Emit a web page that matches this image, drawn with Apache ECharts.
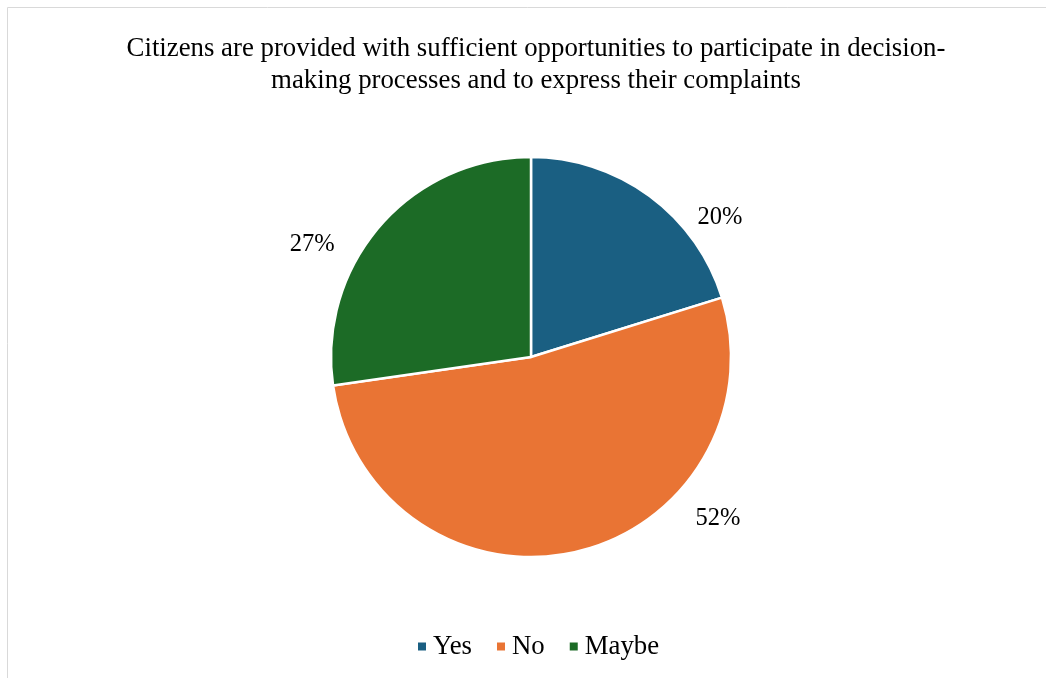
<!DOCTYPE html>
<html><head><meta charset="utf-8">
<script src="https://cdn.jsdelivr.net/npm/echarts@6/dist/echarts.min.js"></script>
<style>html,body{margin:0;padding:0;background:#fff}#c{width:1046px;height:678px}</style>
</head><body><div id="c"></div>
<script>
const titleText = 'Citizens are provided with sufficient opportunities to participate in decision-\nmaking processes and to express their complaints';
const categories = ['Yes', 'No', 'Maybe'];
const values = [20, 52, 27];
const colors = ['#1a5f82', '#e97434', '#1c6b26'];

const labelOffsets = [[31, 38], [111, -53], [-25, 32]];

const chart = echarts.init(document.getElementById('c'));
const font = '"Liberation Serif", "Times New Roman", serif';
chart.setOption({
  animation: false,
  graphic: [{type:'rect', shape:{x:7.5,y:7.5,width:1100,height:700}, style:{fill:'none', stroke:'#d9d9d9', lineWidth:1}}],
  title: {text: titleText, left: 531, textAlign: 'center', top: 28,
    textStyle: {fontFamily: font, fontSize: 26.8, fontWeight: 'normal', color: '#000', lineHeight: 32}},
  legend: {bottom: 13, left: 411, itemWidth: 10, itemHeight: 10, itemGap: 23, icon: 'rect',
    textStyle: {fontFamily: font, fontSize: 26.8, color: '#000', padding: [0, 0, 0, 1]}},
  series: [{
    type: 'pie', center: [531, 357], radius: 200, startAngle: 90, clockwise: true,
    itemStyle: {borderColor: '#fff', borderWidth: 2.5},
    label: {show: true, position: 'outside', formatter: '{c}%', fontFamily: font, fontSize: 24.5, color: '#000'},
    labelLine: {show: false, length: 20, length2: 0},
    labelLayout: function (p) { const o = labelOffsets[p.dataIndex]; return {dx: o[0], dy: o[1]}; },
    data: categories.map((n, i) => ({name: n, value: values[i], itemStyle: {color: colors[i]}}))
  }]
});
</script></body></html>
